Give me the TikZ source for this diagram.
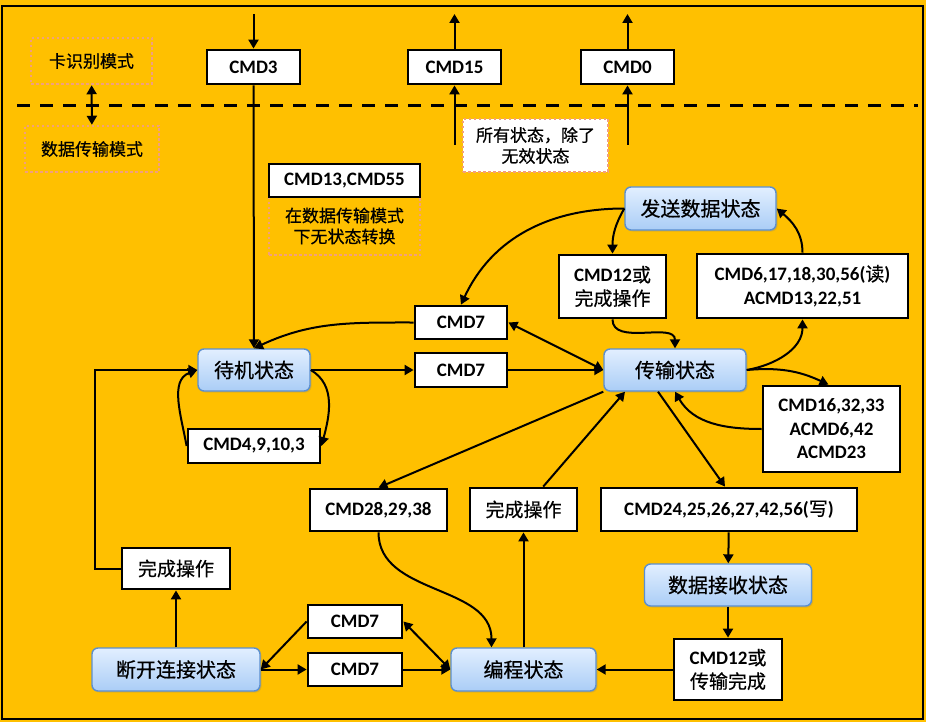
\documentclass[tikz,border=0pt]{standalone}
\usepackage{fontspec}
\setmainfont{Carlito}
\newfontfamily\cjk[FakeBold=0.6]{Noto Sans CJK SC}
\newcommand{\hanzi}[1]{{\cjk\mdseries #1}}
\usetikzlibrary{arrows.meta,shadows}
\definecolor{bgorange}{HTML}{FFC000}
\definecolor{dotpink}{HTML}{F2A07C}
\definecolor{stateedge}{HTML}{5B8FD0}
\definecolor{statetop}{HTML}{E2EFFF}
\definecolor{statebot}{HTML}{AACDF6}
\begin{document}
\begin{tikzpicture}[x=1pt,y=1pt,
	arr/.style={line width=2pt,-{Triangle[length=9pt,width=10pt]}},
	arrboth/.style={line width=2pt,{Triangle[length=9pt,width=10pt]}-{Triangle[length=9pt,width=10pt]}},
	cmdbox/.style={draw,line width=2.8pt,fill=white,font=\fontsize{19}{23.5}\selectfont\bfseries,align=center,inner sep=0pt},
	statebox/.style={draw=stateedge,line width=1.4pt,rounded corners=6pt,top color=statetop,bottom color=statebot,font=\fontsize{20}{24}\selectfont\cjk,inner sep=0pt,drop shadow={opacity=0.25,shadow xshift=1.5pt,shadow yshift=-1.5pt}},
	notebox/.style={draw=dotpink,line width=2.5pt,dash pattern=on 2.5pt off 2.5pt,font=\fontsize{17}{21}\selectfont\cjk,align=center,inner sep=0pt}]
	%
	% frame
		\fill[bgorange] (0,0) rectangle (926,-722);
		\draw[line width=2.5pt] (2,-6) rectangle (923,-719);
		\draw[line width=3pt,dash pattern=on 13pt off 10pt] (17,-106) -- (918,-106);
	% modes and notes
		\node[notebox,minimum width=121,minimum height=46] (cardmode) at (91.5,-61) {卡识别模式};
		\node[notebox,minimum width=134,minimum height=46] (datamode) at (92,-149) {数据传输模式};
		\node[notebox,fill=white,minimum width=145,minimum height=53] (allnote) at (535.5,-145.5) {所有状态，除了\\无效状态};
		\node[notebox,minimum width=151,minimum height=58] (nochange) at (344.5,-226) {在数据传输模式\\下无状态转换};
	% commands
		\node[cmdbox,minimum width=93,minimum height=34] (cmd3) at (253.5,-67) {CMD3};
		\node[cmdbox,minimum width=93,minimum height=34] (cmd15) at (454.5,-67) {CMD15};
		\node[cmdbox,minimum width=93,minimum height=34] (cmd0) at (627.5,-67) {CMD0};
		\node[cmdbox,minimum width=151,minimum height=33] (cmd13) at (344.5,-180.5) {CMD13,CMD55};
		\node[cmdbox,minimum width=107,minimum height=63] (cmd12a) at (612.5,-286.5) {CMD12\hanzi{或}\\\hanzi{完成操作}};
		\node[cmdbox,minimum width=211,minimum height=64] (cmd6) at (802.5,-286) {CMD6,17,18,30,56(\hanzi{读})\\ACMD13,22,51};
		\node[cmdbox,minimum width=92,minimum height=33] (cmd7a) at (461,-322.5) {CMD7};
		\node[cmdbox,minimum width=92,minimum height=34] (cmd7b) at (461,-370) {CMD7};
		\node[cmdbox,minimum width=132,minimum height=34] (cmd4) at (254,-446) {CMD4,9,10,3};
		\node[cmdbox,minimum width=137,minimum height=86] (cmd16) at (831.5,-429) {CMD16,32,33\\ACMD6,42\\ACMD23};
		\node[cmdbox,minimum width=137,minimum height=42] (cmd28) at (378.5,-510) {CMD28,29,38};
		\node[cmdbox,minimum width=107,minimum height=43] (donemid) at (523.5,-509.5) {\hanzi{完成操作}};
		\node[cmdbox,minimum width=256,minimum height=43] (cmd24) at (729,-509.5) {CMD24,25,26,27,42,56(\hanzi{写})};
		\node[cmdbox,minimum width=108,minimum height=61] (cmd12b) at (728,-669.5) {CMD12\hanzi{或}\\\hanzi{传输完成}};
		\node[cmdbox,minimum width=94,minimum height=33] (cmd7c) at (355,-621.5) {CMD7};
		\node[cmdbox,minimum width=94,minimum height=33] (cmd7d) at (355,-669.5) {CMD7};
		\node[cmdbox,minimum width=108,minimum height=41] (doneleft) at (176,-568.5) {\hanzi{完成操作}};
	% states
		\node[statebox,minimum width=151,minimum height=43] (send) at (700.5,-208.5) {发送数据状态};
		\node[statebox,minimum width=112,minimum height=42] (standby) at (254,-370) {待机状态};
		\node[statebox,minimum width=142,minimum height=42] (trans) at (675,-370) {传输状态};
		\node[statebox,minimum width=167,minimum height=42] (recv) at (728,-585) {数据接收状态};
		\node[statebox,minimum width=145,minimum height=43] (prog) at (523.5,-669.5) {编程状态};
		\node[statebox,minimum width=168,minimum height=43] (disc) at (176,-669.5) {断开连接状态};
	% free ends on top
		\coordinate (in3) at (253.5,-14);
		\coordinate (out15) at (454.5,-14);
		\coordinate (out0) at (627.5,-14);
		\coordinate (from15) at (454.5,-145);
		\coordinate (from0) at (627.5,-145);
	% mode switch and top commands
		\draw[arrboth] (cardmode) -- (datamode);
		\draw[arr] (in3) -- (cmd3);
		\draw[arr] (cmd3) -- (standby);
		\draw[arr] (cmd15) -- (out15);
		\draw[arr] (from15) -- (cmd15);
		\draw[arr] (cmd0) -- (out0);
		\draw[arr] (from0) -- (cmd0);
	% standby
		\draw[arr] (cmd7a.west) to[out=180,in=25] (standby.north);
		\draw[arr] (standby) -- (cmd7b);
		\draw[arr] (cmd7b) -- (trans);
		\draw[arrboth] (cmd7a.east) -- (trans.west);
		\draw[arr] (standby.east) to[out=-30,in=75] (cmd4.east);
		\draw[arr] (cmd4.west) to[out=100,in=200] (standby.west);
		\draw[arr] (doneleft.west) -- ++(-26,0) |- (standby.west);
	% transfer
		\draw[arr] (send.west) to[out=180,in=65] (cmd7a.north);
		\draw[arr] (send.west) to[out=-120,in=90] (cmd12a.north);
		\draw[arr] (cmd12a.south) to[out=-90,in=90] (trans.north);
		\draw[arr] (trans.east) to[out=10,in=-90] (cmd6.south);
		\draw[arr] (cmd6.north) to[out=90,in=-40] (send.east);
		\draw[arr] (trans.east) to[out=5,in=155] ([xshift=-3pt]cmd16.north);
		\draw[arr] (cmd16.west) to[out=180,in=-60] (trans.south);
		\draw[arr] (trans.south west) -- (cmd28.north);
		\draw[arr] (donemid) -- ([xshift=-50pt]trans.south);
		\draw[arr] ([xshift=-17pt]trans.south) -- ([xshift=-4pt]cmd24.north);
		\draw[arr] (cmd24) -- (recv);
		\draw[arr] (recv) -- (cmd12b);
		\draw[arr] (cmd12b) -- (prog);
	% programming
		\draw[arr] (cmd28.south) to[out=-90,in=90] ([xshift=-32pt]prog.north);
		\draw[arr] (prog) -- (donemid);
		\draw[arr] (cmd7d) -- (prog);
		\draw[arrboth] (cmd7c.east) -- (prog.west);
	% disconnect
		\draw[arr] (disc) -- (doneleft);
		\draw[arr] (disc) -- (cmd7d);
		\draw[arr] (cmd7c.west) -- (disc.east);
\end{tikzpicture}
\end{document}
